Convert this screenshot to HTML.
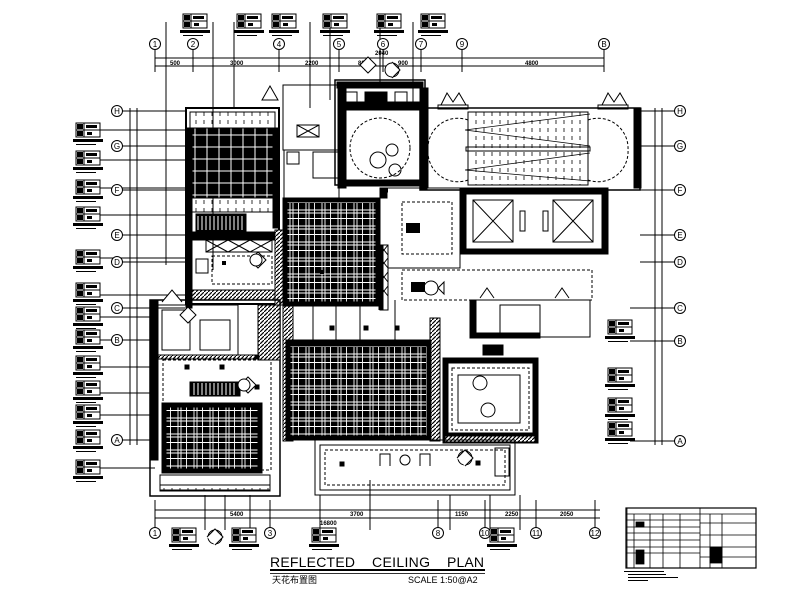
<!DOCTYPE html>
<html><head><meta charset="utf-8"><style>
html,body{margin:0;padding:0;background:#fff;width:800px;height:600px;overflow:hidden}
svg{display:block}
text{font-family:"Liberation Sans","Noto Sans CJK SC",sans-serif;fill:#000}
</style></head><body>
<svg width="800" height="600" viewBox="0 0 800 600" xmlns="http://www.w3.org/2000/svg">
<defs>
<pattern id="grid" width="12" height="12" patternUnits="userSpaceOnUse">
<rect width="12" height="12" fill="#000"/><path d="M3 0V12M0 3H12" stroke="#fff" stroke-width="1"/></pattern>
<pattern id="grid2" width="16" height="16" patternUnits="userSpaceOnUse">
<rect width="16" height="16" fill="#000"/><path d="M2 0V16M5 0V16M0 2H16M0 5H16M10.5 0V16M0 10.5H16" stroke="#fff" stroke-width="0.9"/></pattern>
<pattern id="hatch" width="4" height="4" patternUnits="userSpaceOnUse"><rect width="4" height="4" fill="#fff"/><path d="M0 4L4 0" stroke="#000" stroke-width="1.2"/></pattern>
<pattern id="stair" width="8" height="8" patternUnits="userSpaceOnUse"><path d="M4 0V4" stroke="#000" stroke-width="0.8"/></pattern>
<g id="tag"><rect x="0" y="0" width="24" height="14" fill="#fff" stroke="#000"/><path d="M0 7H24M8 0V14" stroke="#000"/><rect x="1" y="1" width="6" height="5" fill="#000"/><rect x="10" y="2" width="11" height="3" fill="#000"/><rect x="1" y="8" width="6" height="5" fill="#000"/><rect x="11" y="9" width="5" height="3" fill="#000"/><rect x="-3" y="16" width="30" height="3" fill="#000"/><rect x="0" y="21" width="20" height="1" fill="#000"/></g>
<g id="ax"><circle r="5.5" fill="#fff" stroke="#000"/></g>
</defs>

<g stroke="#000" fill="none" stroke-width="1">
<path d="M155 58H604M155 66H604"/>
<path d="M155 40V72M193 40V72M279 40V72M339 40V72M383 40V72M421 40V72M462 40V72M604 40V72"/>
<path d="M655 108V445M662 108V445M640 111H680M640 146H680M640 190H680M640 235H680M640 262H680M630 308H680M630 341H680M630 441H680"/>
<path d="M130 108V445M137 108V445M120 111H185M100 130H185M120 146H185M100 160H185M100 188H185M120 190H185M100 215H185M120 235H185M100 258H185M120 262H185M100 295H185M120 308H185M100 317H155M120 340H155M100 340H155M100 367H155M100 393H155M100 415H155M120 440H155M100 468H155"/>
<path d="M155 510H600M155 518H600M155 500V528M270 500V528M438 500V528M485 500V528M536 500V528M595 500V528"/>
<path d="M213 22V270M166 22V265M234 22V108M310 22V108M330 22V100M413 22V108M380 22V85"/>
<path d="M205 495V530M225 495V530M250 495V530M320 495V530M370 480V530M450 495V530M490 495V530M520 495V530"/>
</g>

<g font-size="8" text-anchor="middle">
<use href="#ax" x="155" y="44"/><text x="155" y="47">1</text>
<use href="#ax" x="193" y="44"/><text x="193" y="47">2</text>
<use href="#ax" x="279" y="44"/><text x="279" y="47">4</text>
<use href="#ax" x="339" y="44"/><text x="339" y="47">5</text>
<use href="#ax" x="383" y="44"/><text x="383" y="47">6</text>
<use href="#ax" x="421" y="44"/><text x="421" y="47">7</text>
<use href="#ax" x="462" y="44"/><text x="462" y="47">9</text>
<use href="#ax" x="604" y="44"/><text x="604" y="47">B</text>
<use href="#ax" x="117" y="111"/><text x="117" y="114">H</text>
<use href="#ax" x="117" y="146"/><text x="117" y="149">G</text>
<use href="#ax" x="117" y="190"/><text x="117" y="193">F</text>
<use href="#ax" x="117" y="235"/><text x="117" y="238">E</text>
<use href="#ax" x="117" y="262"/><text x="117" y="265">D</text>
<use href="#ax" x="117" y="308"/><text x="117" y="311">C</text>
<use href="#ax" x="117" y="340"/><text x="117" y="343">B</text>
<use href="#ax" x="117" y="440"/><text x="117" y="443">A</text>
<use href="#ax" x="680" y="111"/><text x="680" y="114">H</text>
<use href="#ax" x="680" y="146"/><text x="680" y="149">G</text>
<use href="#ax" x="680" y="190"/><text x="680" y="193">F</text>
<use href="#ax" x="680" y="235"/><text x="680" y="238">E</text>
<use href="#ax" x="680" y="262"/><text x="680" y="265">D</text>
<use href="#ax" x="680" y="308"/><text x="680" y="311">C</text>
<use href="#ax" x="680" y="341"/><text x="680" y="344">B</text>
<use href="#ax" x="680" y="441"/><text x="680" y="444">A</text>
<use href="#ax" x="155" y="533"/><text x="155" y="536">1</text>
<use href="#ax" x="270" y="533"/><text x="270" y="536">3</text>
<use href="#ax" x="438" y="533"/><text x="438" y="536">8</text>
<use href="#ax" x="485" y="533"/><text x="485" y="536">10</text>
<use href="#ax" x="536" y="533"/><text x="536" y="536">11</text>
<use href="#ax" x="595" y="533"/><text x="595" y="536">12</text>
</g>
<g font-size="6" font-weight="bold">
<text x="170" y="65">500</text><text x="230" y="65">3000</text><text x="305" y="65">2200</text><text x="358" y="65">800</text><text x="398" y="65">900</text><text x="525" y="65">4800</text><text x="375" y="55">2040</text>
<text x="230" y="516">5400</text><text x="350" y="516">3700</text><text x="455" y="516">1150</text><text x="505" y="516">2250</text><text x="560" y="516">2050</text><text x="320" y="525">16800</text>
</g>

<use href="#tag" x="183" y="14"/><use href="#tag" x="237" y="14"/><use href="#tag" x="272" y="14"/><use href="#tag" x="323" y="14"/><use href="#tag" x="377" y="14"/><use href="#tag" x="421" y="14"/>
<use href="#tag" x="76" y="123"/><use href="#tag" x="76" y="151"/><use href="#tag" x="76" y="180"/><use href="#tag" x="76" y="207"/><use href="#tag" x="76" y="250"/><use href="#tag" x="76" y="283"/><use href="#tag" x="76" y="307"/><use href="#tag" x="76" y="330"/><use href="#tag" x="76" y="356"/><use href="#tag" x="76" y="381"/><use href="#tag" x="76" y="405"/><use href="#tag" x="76" y="430"/><use href="#tag" x="76" y="460"/>
<use href="#tag" x="608" y="320"/><use href="#tag" x="608" y="368"/><use href="#tag" x="608" y="398"/><use href="#tag" x="608" y="422"/>
<use href="#tag" x="172" y="528"/><use href="#tag" x="232" y="528"/><use href="#tag" x="312" y="528"/><use href="#tag" x="490" y="528"/>

<g stroke="#000" fill="none">
<rect x="186" y="108" width="93" height="196" stroke-width="2"/>
<rect x="190" y="112" width="85" height="18" fill="url(#stair)"/>
<rect x="190" y="128" width="85" height="70" fill="url(#grid)"/>
<rect x="186" y="128" width="6" height="180" fill="#000"/>
<rect x="273" y="128" width="6" height="100" fill="#000"/>
<rect x="190" y="198" width="85" height="14" fill="url(#stair)"/>
<rect x="196" y="214" width="50" height="18" fill="#000"/><path d="M198 216V230M202 216V230M206 216V230M210 216V230M214 216V230M218 216V230M222 216V230M226 216V230M230 216V230M234 216V230M238 216V230M242 216V230" stroke="#fff"/>
<rect x="190" y="232" width="85" height="8" fill="#000"/>
<rect x="206" y="240" width="66" height="12"/><path d="M206 240L228 252M228 240L206 252M228 240L250 252M250 240L228 252M250 240L272 252M272 240L250 252"/>
<rect x="212" y="256" width="60" height="28" stroke-dasharray="3 2"/>
<rect x="196" y="259" width="12" height="14"/>
<rect x="192" y="290" width="85" height="10" fill="url(#hatch)"/>
<rect x="275" y="230" width="8" height="75" fill="url(#hatch)"/>
<rect x="283" y="85" width="55" height="65"/><rect x="297" y="125" width="22" height="12"/><path d="M297 125L319 137M319 125L297 137"/>
<rect x="284" y="150" width="55" height="48"/><rect x="287" y="152" width="12" height="12"/><rect x="313" y="152" width="25" height="26"/>
<rect x="335" y="80" width="90" height="105" stroke-width="1.5"/>
<rect x="337" y="82" width="86" height="6" fill="#000"/>
<rect x="338" y="88" width="8" height="100" fill="#000"/>
<rect x="420" y="88" width="8" height="100" fill="#000"/>
<rect x="342" y="102" width="80" height="8" fill="#000"/>
<rect x="342" y="180" width="80" height="6" fill="#000"/>
<rect x="345" y="92" width="12" height="14"/><rect x="395" y="92" width="12" height="14"/><rect x="365" y="92" width="22" height="14" fill="#000"/>
<circle cx="380" cy="148" r="30" stroke-dasharray="3 2"/>
<circle cx="378" cy="160" r="8"/><circle cx="392" cy="150" r="6"/><circle cx="395" cy="170" r="6"/>
<rect x="420" y="108" width="220" height="82" stroke-width="1.5"/>
<rect x="634" y="108" width="7" height="80" fill="#000"/>
<rect x="420" y="108" width="7" height="82" fill="#000"/>
<rect x="468" y="112" width="120" height="73" fill="url(#stair)"/>
<path d="M468 112H588M468 185H588" />
<rect x="466" y="147" width="124" height="4"/>
<path d="M465 130L590 114M465 130L590 146M465 170L590 153M465 170L590 181" stroke-width="0.7"/>
<path d="M468 120a30 30 0 0 0 -40 30a30 30 0 0 0 40 30" stroke-dasharray="3 2"/>
<path d="M588 120a30 30 0 0 1 40 30a30 30 0 0 1 -40 30" stroke-dasharray="3 2"/>
<path d="M441 105L447 93L453 102L459 93L466 105Z" fill="#fff"/>
<path d="M602 105L608 93L614 102L620 93L627 105Z" fill="#fff"/>
<rect x="438" y="105" width="30" height="4"/><rect x="598" y="105" width="30" height="4"/>
<rect x="460" y="188" width="148" height="66" fill="#000"/>
<rect x="466" y="194" width="136" height="55" fill="#fff"/>
<rect x="473" y="200" width="40" height="42"/><path d="M473 200L513 242M513 200L473 242"/>
<rect x="553" y="200" width="40" height="42"/><path d="M553 200L593 242M593 200L553 242"/>
<rect x="520" y="211" width="5" height="20"/><rect x="543" y="211" width="5" height="20"/>
<rect x="380" y="188" width="80" height="80" stroke-width="1"/>
<rect x="380" y="188" width="7" height="10" fill="#000"/>
<rect x="402" y="202" width="50" height="52" stroke-dasharray="3 2"/>
<rect x="402" y="270" width="190" height="30" stroke-dasharray="3 2"/>
<rect x="380" y="245" width="8" height="65" fill="#fff"/><path d="M380 245L388 255M388 245L380 255M380 258L388 268M388 258L380 268M380 272L388 282M388 272L380 282M380 286L388 296M388 286L380 296"/>
<path d="M381 190H388M381 310V245" stroke-width="5"/>
<path d="M480 298l7 -10 7 10M555 298l7 -10 7 10"/>
<rect x="470" y="300" width="120" height="37"/>
<rect x="470" y="300" width="6" height="37" fill="#000"/><rect x="470" y="333" width="70" height="5" fill="#000"/>
<rect x="500" y="305" width="40" height="30"/>
<rect x="283" y="198" width="97" height="108" fill="#000"/>
<rect x="287" y="202" width="89" height="100" fill="url(#grid2)"/>
<rect x="283" y="306" width="10" height="135" fill="url(#hatch)"/>
<rect x="430" y="318" width="10" height="123" fill="url(#hatch)"/>
<rect x="286" y="340" width="145" height="100" fill="#000"/>
<rect x="290" y="346" width="137" height="90" fill="url(#grid2)"/>
<path d="M313 300V340M336 300V340M360 300V340M395 300V340" />
<rect x="330" y="326" width="4" height="4" fill="#000"/><rect x="364" y="326" width="4" height="4" fill="#000"/><rect x="395" y="326" width="4" height="4" fill="#000"/>
<rect x="150" y="300" width="130" height="196" stroke-width="1.5"/>
<rect x="150" y="300" width="8" height="160" fill="#000"/>
<rect x="158" y="305" width="80" height="50"/>
<rect x="162" y="310" width="28" height="40"/><rect x="200" y="320" width="30" height="30"/>
<rect x="158" y="355" width="100" height="4" fill="url(#hatch)"/>
<rect x="258" y="305" width="22" height="55" fill="url(#hatch)"/>
<rect x="190" y="382" width="50" height="14" fill="#000"/><path d="M194 383V395M198 383V395M202 383V395M206 383V395M210 383V395M214 383V395M218 383V395M222 383V395M226 383V395M230 383V395M234 383V395" stroke="#fff"/>
<rect x="162" y="403" width="100" height="70" fill="#000"/>
<rect x="166" y="407" width="92" height="62" fill="url(#grid2)"/>
<rect x="160" y="475" width="110" height="15"/><rect x="160" y="485" width="110" height="6" fill="url(#stair)"/>
<rect x="163" y="360" width="108" height="110" stroke-dasharray="3 2"/>
<rect x="185" y="365" width="4" height="4" fill="#000"/><rect x="220" y="365" width="4" height="4" fill="#000"/><rect x="255" y="385" width="4" height="4" fill="#000"/><rect x="255" y="355" width="4" height="4" fill="#000"/>
<path d="M162 302l10 -12 10 12" fill="#fff"/>
<rect x="443" y="358" width="95" height="85" fill="#000"/>
<rect x="448" y="363" width="85" height="70" fill="#fff"/>
<rect x="452" y="368" width="77" height="62" stroke-dasharray="3 2"/>
<rect x="458" y="375" width="62" height="48"/>
<rect x="445" y="436" width="90" height="6" fill="url(#hatch)"/>
<rect x="483" y="345" width="20" height="10" fill="#000"/>
<rect x="315" y="440" width="200" height="55"/>
<rect x="320" y="445" width="190" height="45"/>
<rect x="325" y="450" width="180" height="35" stroke-dasharray="3 2"/>
<rect x="340" y="462" width="4" height="4" fill="#000"/><rect x="476" y="461" width="4" height="4" fill="#000"/>
<path d="M380 466v-12h10v12M420 466v-12h10v12"/><circle cx="405" cy="460" r="5"/>
<rect x="495" y="448" width="14" height="28"/>
</g>
<g stroke="#000" fill="#fff">
<path d="M250 260l8 -8 8 8 -8 8Z"/><circle cx="256" cy="260" r="6"/>
<path d="M240 385l8 -8 8 8 -8 8Z"/><circle cx="244" cy="385" r="6"/>
<path d="M360 65l8 -8 8 8 -8 8Z" /><circle cx="392" cy="70" r="7"/><path d="M392 62l8 8 -8 8"/>
<circle cx="215" cy="537" r="7"/><path d="M207 537l8 -8 8 8 -8 8"/>
<circle cx="465" cy="458" r="7"/><path d="M457 458l8 -8 8 8 -8 8"/>
<circle cx="480" cy="383" r="7"/><circle cx="488" cy="410" r="7"/>
<circle cx="431" cy="288" r="7"/><path d="M438 288l6 -6v12Z"/>
<path d="M180 315l8 -8 8 8 -8 8Z"/><path d="M262 100l8 -14 8 14Z"/>
</g>
<g fill="#000"><rect x="406" y="223" width="14" height="10"/><rect x="411" y="282" width="14" height="10"/><rect x="222" y="261" width="4" height="4"/><rect x="320" y="270" width="4" height="4"/></g>

<text x="270" y="567" font-size="14" textLength="85" lengthAdjust="spacing">REFLECTED</text>
<text x="372" y="567" font-size="14" textLength="58" lengthAdjust="spacing">CEILING</text>
<text x="447" y="567" font-size="14" textLength="37" lengthAdjust="spacing">PLAN</text>
<rect x="270" y="569" width="215" height="2" fill="#000"/><rect x="270" y="573" width="215" height="0.8" fill="#000"/>
<text x="272" y="583" font-size="9">天花布置图</text>
<text x="408" y="583" font-size="9">SCALE 1:50@A2</text>

<g stroke="#000" fill="none" stroke-width="0.8">
<rect x="626" y="508" width="130" height="60" stroke-width="1.2"/>
<path d="M626 514H756M626 520H700M626 527H700M626 533H700M626 540H700M626 547H700M626 553H700M627 508V568M634 514V568M650 514V568M663 514V568M680 514V568M700 508V568M710 514V568M722 514V568M700 523H756M700 535H756M700 547H756M700 557H756"/>
<rect x="636" y="522" width="8" height="5" fill="#000"/><rect x="636" y="550" width="8" height="14" fill="#000"/><rect x="710" y="547" width="12" height="16" fill="#000"/>
</g>
<g fill="#000"><rect x="624" y="571" width="40" height="1"/><rect x="628" y="574" width="38" height="1"/><rect x="628" y="577" width="50" height="1"/><rect x="628" y="580" width="20" height="1"/></g>
</svg>
</body></html>
